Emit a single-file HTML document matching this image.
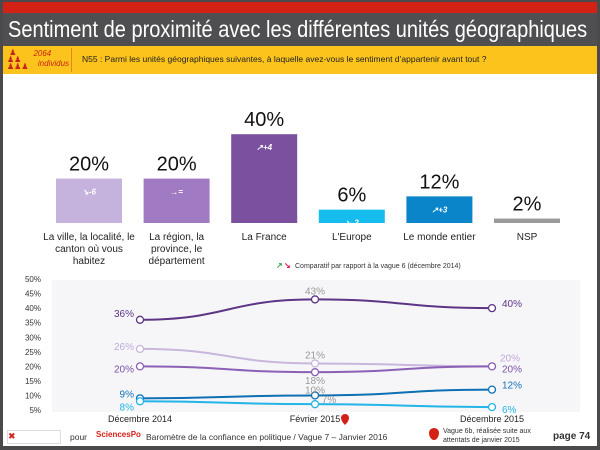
<!DOCTYPE html>
<html><head><meta charset="utf-8"><style>
body{margin:0;width:600px;height:450px;overflow:hidden;background:#4a4a4c;font-family:"Liberation Sans",sans-serif}
#page{position:absolute;left:3px;top:2px;width:594px;height:444px;background:#fff;overflow:hidden}
</style></head><body>
<div id="page">
<div style="position:absolute;left:0;top:0;width:594px;height:11px;background:#d42116"></div>
<div style="position:absolute;left:0;top:11px;width:594px;height:33px;background:#4f4f51"></div>
<div style="position:absolute;left:5px;top:11px;height:33px;color:#fff;font-size:23px;line-height:33px;white-space:nowrap;transform:scaleX(0.87);transform-origin:0 0">Sentiment de proximité avec les différentes unités géographiques</div>
<div style="position:absolute;left:0;top:44px;width:594px;height:28px;background:#fbc31b">
<div style="position:absolute;left:26px;top:3px;font-size:8px;font-style:italic;color:#c9241b;line-height:10px">&nbsp;&nbsp;2064<br>&nbsp;&nbsp;&nbsp;&nbsp;individus</div>
<div style="position:absolute;left:4px;top:3px;color:#c9241b;font-size:8px;line-height:7px">&nbsp;♟<br>♟♟<br>♟♟♟</div>
<div style="position:absolute;left:68px;top:2px;width:1px;height:24px;background:#e08a1a"></div>
<div style="position:absolute;left:79px;top:8px;font-size:8.5px;color:#222;white-space:nowrap">N55 : Parmi les unités géographiques suivantes, à laquelle avez-vous le sentiment d’appartenir avant tout ?</div>
</div>
<svg id="chart" width="594" height="444" style="position:absolute;left:0;top:0"></svg>
<div style="position:absolute;left:0;top:426px;width:594px;height:18px;font-size:8.5px;color:#333">
<span style="position:absolute;left:4px;top:2px;width:52px;height:12px;border:1px solid #ddd;color:#d42116;font-size:9px">✖</span>
<span style="position:absolute;left:67px;top:4px">pour</span>
<span style="position:absolute;left:93px;top:2px;color:#d42116;font-weight:bold;font-size:8px">SciencesPo</span>
<span style="position:absolute;left:143px;top:4px">Baromètre de la confiance en politique / Vague 7 – Janvier 2016</span>
<span style="position:absolute;left:426px;top:0px;width:10px;height:12px;background:#d42116;border-radius:50% 50% 50% 50%/40% 40% 60% 60%"></span>
<span style="position:absolute;left:440px;top:-1px;font-size:7px;line-height:9px">Vague 6b, réalisée suite aux<br>attentats de janvier 2015</span>
<span style="position:absolute;left:550px;top:3px;font-weight:bold;font-size:10px">page 74</span>
</div>
</div>
<script>
const barCategories=["La ville, la localité, le|canton où vous|habitez","La région, la|province, le|département","La France","L'Europe","Le monde entier","NSP"];
const barValues=[20,20,40,6,12,2];
const barChanges=["↘-6","→=","↗+4","↘-2","↗+3",""];
const barColors=["#c5b2dd","#a07bc4","#7b519f","#14bdee","#0a85ca","#9a9a9a"];
const lineCategories=["Décembre 2014","Février 2015","Décembre 2015"];
const lineFrance=[36,43,40];
const lineVille=[26,21,20];
const lineRegion=[20,18,20];
const lineMonde=[9,10,12];
const lineEurope=[8,7,6];
const lineTicks=[5,10,15,20,25,30,35,40,45,50];

const svg=document.getElementById('chart');const NS='http://www.w3.org/2000/svg';
function mk(t,a,p){const e=document.createElementNS(NS,t);for(const k in a)e.setAttribute(k,a[k]);(p||svg).appendChild(e);return e;}
const bx=i=>53+i*87.6, bw=66, base=221, by=v=>base-v*2.22;
barValues.forEach((v,i)=>{
 const r=mk('rect',{x:bx(i),y:by(v),width:bw,height:Math.max(base-by(v),4),fill:barColors[i]});
 
 
 const t=mk('text',{x:bx(i)+bw/2,y:by(v)-8,'text-anchor':'middle','font-size':'20',fill:'#111'});t.textContent=v+'%';
 
 
 if(barChanges[i]){const c=mk('text',{x:bx(i)+bw/2,y:v>4?by(v)+16:base-3,'text-anchor':'middle','font-size':v>4?'8':'7','font-weight':'bold','font-style':'italic',fill:'#fff'});c.textContent=barChanges[i];
 
 }
 barCategories[i].split('|').forEach((ln,j)=>{const l=mk('text',{x:bx(i)+bw/2,y:238+j*12,'text-anchor':'middle','font-size':'10',fill:'#222'});l.textContent=ln;
 
 });
});
const leg=mk('text',{x:292,y:266,'font-size':'7',fill:'#333'});leg.textContent='Comparatif par rapport à la vague 6  (décembre 2014)';


const la=mk('text',{x:273,y:266,'font-size':'8','font-weight':'bold',fill:'#2aa84a'});la.textContent='↗';
const lb=mk('text',{x:281,y:266,'font-size':'8','font-weight':'bold',fill:'#d42142'});lb.textContent='↘';
const lxs=[137,312,489], ly=v=>408-(v-5)*2.91;
const bg=mk('rect',{x:49,y:278,width:528,height:132,fill:'#f6f6f9'});


lineTicks.forEach(t=>{const e=mk('text',{x:38,y:ly(t)+3,'text-anchor':'end','font-size':'8',fill:'#333'});e.textContent=t+'%';
 
 });
lineCategories.forEach((c,i)=>{const e=mk('text',{x:lxs[i],y:420,'text-anchor':'middle','font-size':'9',fill:'#222'});e.textContent=c;
 
 });
mk('path',{d:'M338,416 a4,4 0 1,1 8,0 q0,3 -4,7 q-4,-4 -4,-7z',fill:'#d42116'});
const series=[
 {d:lineFrance,c:'#5c3584',n:'france',off:[[-18,-6,'#5c3584'],[0,-8,'#999'],[10,-4,'#5c3584']]},
 {d:lineVille,c:'#c9b6dd',n:'ville',off:[[-18,-2,'#c0aad8'],[0,-8,'#999'],[8,-8,'#c0aad8']]},
 {d:lineRegion,c:'#8b60b5',n:'region',off:[[-18,3,'#7a52a3'],[0,9,'#999'],[10,3,'#7a52a3']]},
 {d:lineMonde,c:'#0f6fb3',n:'monde',off:[[-16,-4,'#1371b6'],[0,-5,'#999'],[10,-4,'#1371b6']]},
 {d:lineEurope,c:'#22b5e6',n:'europe',off:[[-16,6,'#22b5e6'],[14,-4,'#999'],[10,3,'#22b5e6']]}];
series.forEach(s=>{
 const p=s.d.map((v,i)=>[lxs[i],ly(v)]);
 let d='M'+p[0][0]+','+p[0][1];
 for(let i=1;i<p.length;i++){const mx=(p[i][0]-p[i-1][0])/2;d+=' C'+(p[i-1][0]+mx)+','+p[i-1][1]+' '+(p[i][0]-mx)+','+p[i][1]+' '+p[i][0]+','+p[i][1];}
 const l=mk('path',{d:d,fill:'none',stroke:s.c,'stroke-width':2});
 
 
 p.forEach((q,i)=>{const c=mk('circle',{cx:q[0],cy:q[1],r:3.5,fill:'#fff',stroke:s.c,'stroke-width':1.3});
  
  
  const o=s.off[i];const t=mk('text',{x:i==0?q[0]-6:q[0]+o[0],y:q[1]+o[1]+3,'text-anchor':i==0?'end':(i==2?'start':'middle'),'font-size':'10',fill:o[2]});
  t.textContent=s.d[i]+'%';
  
  });
});
</script>
</body></html>
